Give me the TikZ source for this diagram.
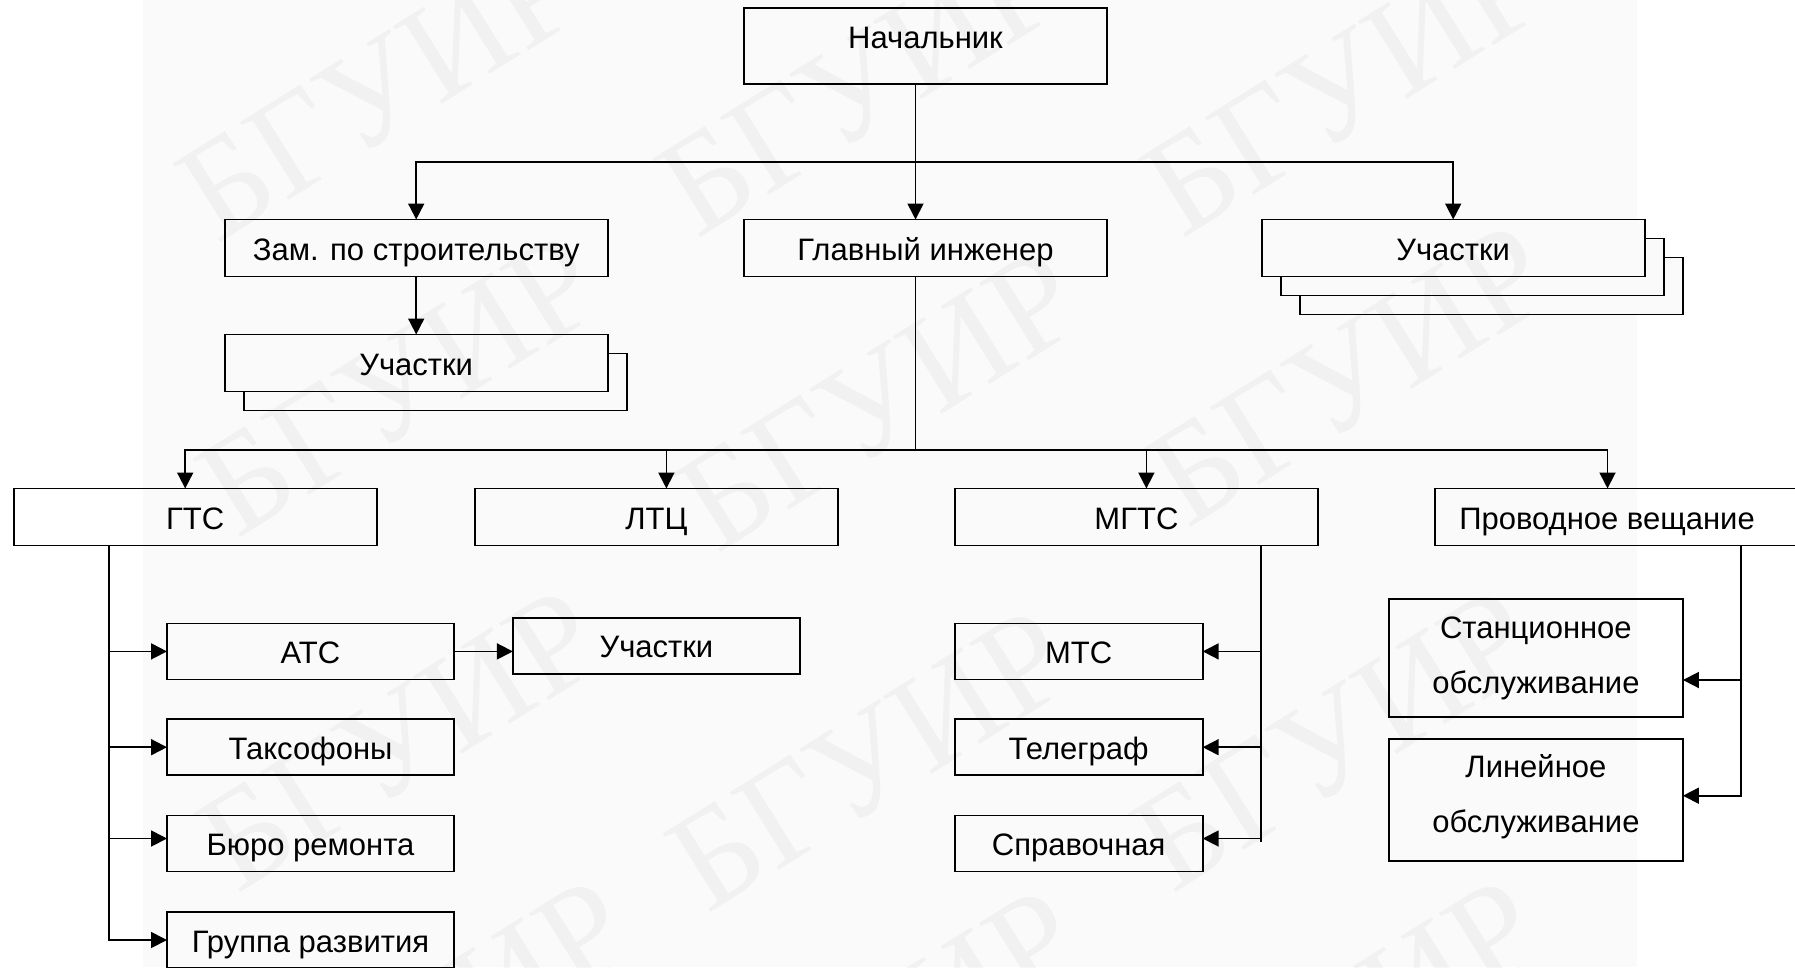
\documentclass[tikz,border=0pt]{standalone}
\usepackage{fontspec}
\setmainfont{Liberation Sans}
\newfontfamily\wmfont{Liberation Serif}
\usetikzlibrary{arrows.meta,calc}

\definecolor{paper}{gray}{0.982}

\begin{document}
\begin{tikzpicture}[x=1pt,y=-1pt,
  every node/.style={font=\fontsize{31}{37}\selectfont, inner sep=0pt, outer sep=0pt},
  box/.style={draw, line width=1.7pt, minimum height=57pt},
  wide/.style={box, minimum width=363pt},
  longbox/.style={box, minimum width=383pt, fill=paper},
  small/.style={box, minimum width=287pt, minimum height=56pt},
  tx/.style={text height=27pt, text depth=3pt},
  twoline/.style={align=center, font=\fontsize{31}{55}\selectfont},
  link/.style={line width=1.8pt},
  arr/.style={link, -{Triangle[length=16pt,width=16pt]}},
  wmtext/.style={font=\wmfont\fontsize{140}{140}\selectfont, text=black, opacity=0.035, rotate=32},
]
\useasboundingbox (0,0) rectangle (1795,967);
\fill[paper] (143,0) rectangle (1637,967);

% top level
\node[wide, minimum height=76pt] (nach) at (925.5,46) {};
\node[tx] (nachT) at (925.5,36) {Начальник};

% second level
\node[longbox, fill=none, tx] (zam) at (416.2,248) {Зам. по строительству};
\node[wide, tx] (glav) at (925.5,248) {Главный инженер};
\node[longbox] (uchR3) at (1491.2,286) {};
\node[longbox] (uchR2) at (1472.2,267) {};
\node[longbox, tx] (uchR) at (1453.2,248) {Участки};

\node[longbox] (uchL2) at (435.7,382) {};
\node[longbox, tx] (uchL) at (416.2,363) {Участки};

% departments
\node[wide, tx] (gts) at (195.2,517) {ГТС};
\node[wide, tx] (ltc) at (656.4,517) {ЛТЦ};
\node[wide, tx] (mgts) at (1136.4,517) {МГТС};
\node[wide] (pv) at (1616.5,517) {};
\node[tx] (pvT) at (1607,517) {Проводное вещание};

% GTS services
\node[small, tx] (ats) at (310.5,651.4) {АТС};
\node[small, tx] (uchA) at (656.4,645.8) {Участки};
\node[small, tx] (taks) at (310.5,747.2) {Таксофоны};
\node[small, tx] (buro) at (310.5,843.5) {Бюро ремонта};
\node[small, tx] (grup) at (310.5,940) {Группа развития};

% MGTS services
\node[small, minimum width=248pt, tx] (mts) at (1078.7,651.4) {МТС};
\node[small, minimum width=248pt, tx] (tel) at (1078.7,747.2) {Телеграф};
\node[small, minimum width=248pt, tx] (sprav) at (1078.7,843.5) {Справочная};

% wired broadcasting services
\node[box, minimum width=294pt, minimum height=118pt, twoline] (stan) at (1535.9,658.3) {Станционное\\обслуживание};
\node[box, minimum width=294pt, minimum height=122pt] (lin) at (1535.9,800.3) {};
\node[twoline] (linT) at (1535.9,796.5) {Линейное\\обслуживание};

% upper connectors
\coordinate (hubT) at (915.5,161.7);
\draw[arr] ([xshift=-10pt]nach.south) -- ([xshift=-10pt]glav.north);
\draw[arr] (hubT) -| (zam.north);
\draw[arr] (hubT) -| (uchR.north);
\draw[arr] (zam.south) -- (uchL.north);

% chief engineer to departments
\coordinate (hubM) at (915.5,450);
\draw[link] ([xshift=-10pt]glav.south) -- (hubM);
\draw[arr] (hubM) -| ([xshift=-10pt]gts.north);
\draw[arr] (hubM) -| ([xshift=10pt]ltc.north);
\draw[arr] (hubM) -| ([xshift=10pt]mgts.north);
\draw[arr] (hubM) -| ([xshift=-9pt]pv.north);

% GTS branch
\coordinate (gsp) at (109,0);
\coordinate (buroIn) at ([yshift=5pt]buro.west);
\draw[arr] (gts.south -| gsp) |- (grup.west);
\draw[arr] (gsp |- ats.west) -- (ats.west);
\draw[arr] (gsp |- taks.west) -- (taks.west);
\draw[arr] (gsp |- buroIn) -- (buroIn);
\draw[arr] (ats.east) -- (ats.east -| uchA.west);

% MGTS branch
\coordinate (mEnd) at (1260.7,841.7);
\coordinate (spIn) at ([yshift=5pt]sprav.east);
\draw[link] (mgts.south -| mEnd) -- (mEnd);
\draw[arr] (mEnd |- mts.east) -- (mts.east);
\draw[arr] (mEnd |- tel.east) -- (tel.east);
\draw[arr] (mEnd |- spIn) -- (spIn);

% wired broadcasting branch
\coordinate (psp) at (1741.3,0);
\coordinate (stanIn) at ([yshift=-21.7pt]stan.east);
\coordinate (linIn) at ([yshift=4.6pt]lin.east);
\draw[arr] (pv.south -| psp) |- (linIn);
\draw[arr] (psp |- stanIn) -- (stanIn);

% faint watermark over the page
\foreach \p [count=\i] in {(380,90),(860,85),(1345,85),
                           (400,385),(880,400),(1350,375),
                           (400,740),(870,760),(1335,740),
                           (430,1030),(880,1040),(1340,1030)}
  \node[wmtext] (wm\i) at \p {БГУИР};
\end{tikzpicture}
\end{document}
